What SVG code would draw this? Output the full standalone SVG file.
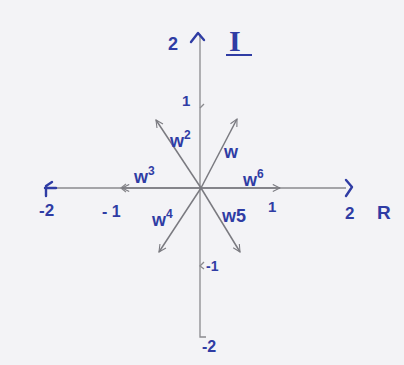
<svg xmlns="http://www.w3.org/2000/svg" width="404" height="365" viewBox="0 0 404 365">
<defs>
<style>
.axis{stroke:#8a8a8e;stroke-width:1.3;fill:none}
.vec{stroke:#7a7a80;stroke-width:1.5;fill:none}
.ink{stroke:#2f3ca4;stroke-width:2.4;fill:none;stroke-linecap:round;stroke-linejoin:round}
.t{font-family:"Liberation Sans",Arial,sans-serif;fill:#2f3ca4;font-weight:bold}
.w{font-family:"Liberation Sans",Arial,sans-serif;fill:#2f3ca4;font-weight:bold;font-size:18px}
.sup{font-size:12px}
</style>
<marker id="ah" viewBox="0 0 10 10" refX="9" refY="5" markerWidth="9" markerHeight="9" orient="auto" markerUnits="userSpaceOnUse">
<path d="M1,1 L9,5 L1,9" fill="none" stroke="#7a7a80" stroke-width="1.2"/>
</marker>
</defs>
<rect width="404" height="365" fill="#f3f3f6"/>
<g id="axes">
<line class="axis" x1="48" y1="188" x2="346" y2="188"/>
<path class="axis" d="M200,34 L200,337 L206,337"/>
<path class="ink" d="M346,180 L352,187 L346,196"/>
<path class="ink" d="M52,182 L46,186 L46,196 M45,188 L56,188"/>
<path class="ink" d="M191,42 L198,33 L204,40"/>
<path class="axis" d="M204,104 L200,108 M126,184 L121,188 L126,192 M204,262 L200,266 L204,269"/>
</g>
<g id="vectors">
<line class="vec" x1="201" y1="188" x2="237" y2="119" marker-end="url(#ah)"/>
<line class="vec" x1="201" y1="188" x2="156" y2="120" marker-end="url(#ah)"/>
<line class="vec" x1="201" y1="188" x2="122" y2="188" marker-end="url(#ah)"/>
<line class="vec" x1="201" y1="188" x2="159" y2="252" marker-end="url(#ah)"/>
<line class="vec" x1="201" y1="188" x2="240" y2="252" marker-end="url(#ah)"/>
<line class="vec" x1="201" y1="188" x2="280" y2="188" marker-end="url(#ah)"/>
</g>
<g id="labels">
<text class="t" x="168" y="50" font-size="18">2</text>
<text x="229" y="51" font-family="Liberation Serif,serif" font-size="30" fill="#2f3ca4" font-weight="bold">I</text>
<line x1="226" y1="55" x2="252" y2="55" stroke="#2f3ca4" stroke-width="2"/>
<text class="t" x="182" y="106" font-size="15">1</text>
<text class="t" x="377" y="219" font-size="19">R</text>
<text class="t" x="345" y="219" font-size="17">2</text>
<text class="t" x="268" y="212" font-size="15">1</text>
<text class="t" x="39" y="216" font-size="17">-2</text>
<text class="t" x="102" y="217" font-size="16">- 1</text>
<text class="t" x="206" y="271" font-size="14">-1</text>
<text class="t" x="202" y="352" font-size="16">-2</text>
<text class="w" x="224" y="158">w</text>
<text class="w" x="170" y="147">w<tspan class="sup" dy="-8">2</tspan></text>
<text class="w" x="134" y="183">w<tspan class="sup" dy="-8">3</tspan></text>
<text class="w" x="152" y="226">w<tspan class="sup" dy="-8">4</tspan></text>
<text class="w" x="222" y="222">w5</text>
<text class="w" x="243" y="186">w<tspan class="sup" dy="-8">6</tspan></text>
</g>
</svg>
